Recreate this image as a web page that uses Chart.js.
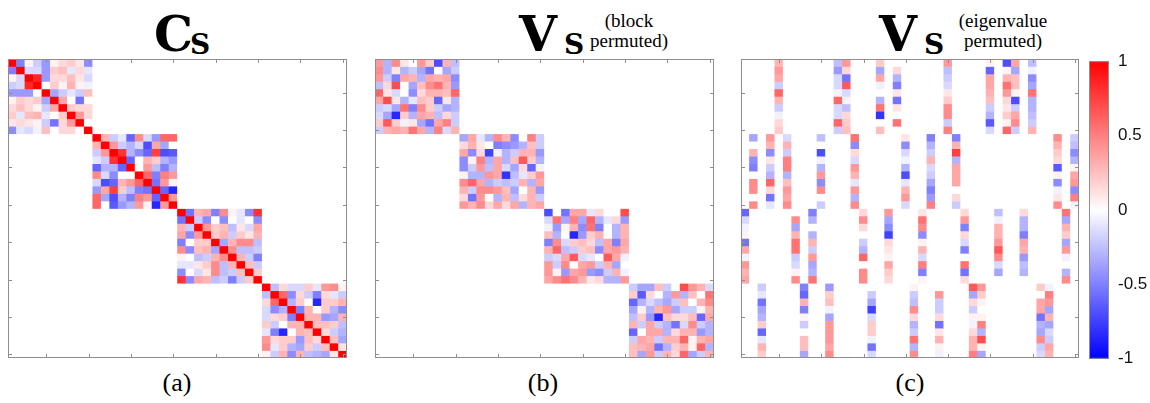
<!DOCTYPE html>
<html lang="en">
<head>
<meta charset="UTF-8">
<title>Cs and Vs matrices</title>
<script src="https://cdn.jsdelivr.net/npm/chart.js"></script>
<style>
  html, body { margin: 0; padding: 0; background: #fff; }
  .page { position: relative; width: 1150px; height: 403px; overflow: hidden; }
  .panel { position: absolute; }
  .big { position: absolute; font-family: 'DejaVu Serif', serif; font-weight: bold; font-size: 49px; line-height: 49px; color: #000; }
  .sub { position: absolute; font-family: 'DejaVu Serif', serif; font-weight: bold; font-size: 28px; line-height: 28px; color: #000; }
  .note { position: absolute; font-family: 'Liberation Serif', serif; font-size: 19px; line-height: 20px; text-align: center; color: #000; }
  .tag { position: absolute; width: 60px; font-family: 'Liberation Serif', serif; font-size: 26px; line-height: 26px; text-align: center; color: #000; }
</style>
</head>
<body>
<div class="page">
  <span class="big" style="left:154px; top:10px;">C</span>
  <span class="sub" style="left:190px; top:31px;">S</span>
  <span class="big" style="left:519px; top:10px;">V</span>
  <span class="sub" style="left:564px; top:31px;">S</span>
  <span class="note" style="left:584px; top:11px; width:90px;">(block<br>permuted)</span>
  <span class="big" style="left:879px; top:10px;">V</span>
  <span class="sub" style="left:924px; top:31px;">S</span>
  <span class="note" style="left:948px; top:11px; width:110px;">(eigenvalue<br>permuted)</span>

  <canvas id="panelA" class="panel" style="left:4px; top:55px;" width="347" height="307"></canvas>
  <canvas id="panelB" class="panel" style="left:371px; top:55px;" width="347" height="307"></canvas>
  <canvas id="panelC" class="panel" style="left:737px; top:55px;" width="346" height="307"></canvas>
  <canvas id="colorBar" class="panel" style="left:1089px; top:50px;" width="61" height="320"></canvas>

  <span class="tag" style="left:147px; top:370px;">(a)</span>
  <span class="tag" style="left:513px; top:370px;">(b)</span>
  <span class="tag" style="left:880px; top:370px;">(c)</span>
</div>

<script>
// row / column index of the 40x40 matrices
const cells = [1,2,3,4,5,6,7,8,9,10,11,12,13,14,15,16,17,18,19,20,
               21,22,23,24,25,26,27,28,29,30,31,32,33,34,35,36,37,38,39,40];
const axisTicks = [5, 10, 15, 20, 25, 30, 35, 40];
const barTicks = [-1, -0.5, 0, 0.5, 1];

// (a) Cs : four 10x10 correlation blocks on the diagonal
const csBlock1 = [
  [1, -0.5, 0.05, -0.2, -0.4, 0.05, 0.15, 0.2, 0.1, -0.45],
  [-0.5, 1, -0.15, -0.15, -0.4, 0.2, 0.25, -0.1, 0.15, -0.1],
  [0.05, -0.15, 1, 0.85, -0.4, 0.15, 0.15, 0.25, 0.1, -0.15],
  [-0.2, -0.15, 0.85, 1, 0, 0.2, 0.05, 0.3, 0.05, -0.05],
  [-0.4, -0.4, -0.4, 0, 1, -0.35, -0.2, -0.1, -0.2, 0.25],
  [0.05, 0.2, 0.15, 0.2, -0.35, 1, 0.35, 0, -0.55, 0],
  [0.15, 0.25, 0.15, 0.05, -0.2, 0.35, 1, 0.2, 0.15, 0.15],
  [0.2, -0.1, 0.25, 0.3, -0.1, 0, 0.2, 1, 0.4, 0.15],
  [0.1, 0.15, 0.1, 0.05, -0.2, -0.55, 0.15, 0.4, 1, 0],
  [-0.45, -0.1, -0.15, -0.05, 0.25, 0, 0.15, 0.15, 0, 1]
];
const csBlock2 = [
  [1, 0.3, -0.2, -0.1, -0.6, 0.45, -0.15, -0.4, 0.6, 0.6],
  [0.3, 1, 0.4, -0.2, -0.3, -0.15, -0.7, 0.35, -0.35, 0],
  [-0.2, 0.4, 1, 0.8, -0.3, -0.45, -0.6, 0.75, -0.7, -0.65],
  [-0.1, -0.2, 0.8, 1, -0.6, 0, 0.3, 0.2, -0.3, -0.4],
  [-0.6, -0.3, -0.3, -0.6, 1, 0, 0.4, -0.25, -0.5, -0.3],
  [0.45, -0.15, -0.45, 0, 0, 1, 0.6, -0.5, 0.5, 0.4],
  [-0.15, -0.7, -0.6, 0.3, 0.4, 0.6, 1, -0.55, 0.4, 0.05],
  [-0.4, 0.35, 0.75, 0.2, -0.25, -0.5, -0.55, 1, -0.6, -0.85],
  [0.6, -0.35, -0.7, -0.3, -0.5, 0.5, 0.4, -0.6, 1, 0.4],
  [0.6, 0, -0.65, -0.4, -0.3, 0.4, 0.05, -0.85, 0.4, 1]
];
const csBlock3 = [
  [1, -0.55, 0.3, 0.35, -0.5, 0.45, 0.05, -0.1, -0.45, 0.8],
  [-0.55, 1, -0.2, -0.45, 0, -0.45, 0, -0.1, 0, -0.45],
  [0.3, -0.2, 1, 0.4, 0.2, 0.25, -0.25, 0.1, -0.15, 0.35],
  [0.35, -0.45, 0.4, 1, 0.2, 0.3, -0.2, 0.2, 0.1, 0.3],
  [-0.5, 0, 0.2, 0.2, 1, -0.35, 0.3, 0.45, 0.45, -0.25],
  [0.45, -0.45, 0.25, 0.3, -0.35, 1, 0.45, -0.25, -0.25, -0.2],
  [0.05, 0, -0.25, -0.2, 0.3, 0.45, 1, 0.3, -0.2, -0.5],
  [-0.1, -0.1, 0.1, 0.2, 0.45, -0.25, 0.3, 1, 0.25, -0.2],
  [-0.45, 0, -0.15, 0.1, 0.45, -0.25, -0.2, 0.25, 1, 0.2],
  [0.8, -0.45, 0.35, 0.3, -0.25, -0.2, -0.5, -0.2, 0.2, 1]
];
const csBlock4 = [
  [1, -0.25, 0.15, -0.15, -0.15, 0.2, -0.1, 0.4, 0.45, 0.05],
  [-0.25, 1, 0.6, -0.45, 0.15, -0.2, -0.5, 0.15, -0.1, -0.2],
  [0.15, 0.6, 1, -0.3, 0.2, 0, -0.85, 0.2, 0.2, 0.3],
  [-0.15, -0.45, -0.3, 1, -0.5, 0.3, 0, 0.2, -0.3, -0.45],
  [-0.15, 0.15, 0.2, -0.5, 1, 0.3, 0.3, -0.4, -0.35, 0.3],
  [0.2, -0.2, 0, 0.3, 0.3, 1, 0.25, 0.25, 0.2, -0.25],
  [-0.1, -0.5, -0.85, 0, 0.3, 0.25, 1, 0.15, -0.2, -0.3],
  [0.4, 0.15, 0.2, 0.2, -0.4, 0.25, 0.15, 1, 0.25, -0.35],
  [0.45, -0.1, 0.2, -0.3, -0.35, 0.2, -0.2, 0.25, 1, 0.1],
  [0.05, -0.2, 0.3, -0.45, 0.3, -0.25, -0.3, -0.35, 0.1, 1]
];

// (b) Vs, block permuted
const vsBlock1 = [
  [0.4, -0.3, 0.45, 0.1, 0, 0.4, 0.2, -0.7, 0.3, -0.25],
  [0.45, -0.3, 0.1, -0.3, -0.2, -0.35, -0.55, 0, -0.35, -0.2],
  [0.4, -0.2, -0.5, 0.35, 0.3, -0.3, 0.35, 0.3, 0.35, -0.45],
  [-0.25, 0.15, 0.7, 0, -0.35, 0.25, 0.45, 0.55, 0.3, -0.4],
  [0.6, 0.1, -0.15, 0, -0.45, 0.15, 0.3, 0.3, 0.25, 0.6],
  [0.35, 0.7, 0.1, -0.3, -0.1, 0.25, 0.2, -0.6, 0.1, -0.3],
  [-0.2, -0.15, -0.35, 0.55, -0.5, 0.45, 0.2, -0.2, -0.35, -0.3],
  [-0.15, -0.35, -0.85, 0.2, -0.3, 0.35, 0.3, -0.25, 0.15, -0.2],
  [0.2, 0.65, 0.2, -0.05, 0.1, -0.35, -0.55, 0.35, 0.5, -0.2],
  [-0.2, 0.3, 0.35, 0.3, 0.55, 0.35, -0.3, 0.5, -0.15, 0.3]
];
const vsBlock2 = [
  [-0.35, 0.35, -0.1, -0.3, 0.45, 0.3, -0.45, 0, 0.5, -0.2],
  [0.15, 0.3, 0.1, 0, -0.5, -0.45, -0.4, -0.3, 0.25, -0.2],
  [0.35, -0.45, 0.15, -0.75, -0.05, -0.3, -0.2, 0.3, 0.3, -0.4],
  [-0.45, 0.05, 0.5, -0.3, 0.35, -0.3, 0.25, 0.65, 0.2, -0.3],
  [-0.45, -0.2, 0.4, -0.25, 0.35, -0.15, -0.35, 0.15, -0.6, -0.05],
  [0.05, -0.3, -0.3, 0.4, 0.35, -0.8, -0.25, -0.1, 0.2, 0.4],
  [0.45, 0.6, 0.35, -0.3, -0.2, -0.25, -0.2, 0.3, -0.3, 0.35],
  [0.3, -0.2, 0.45, 0.45, 0.4, 0.25, -0.35, 0, 0.3, -0.4],
  [0.15, -0.55, 0.4, 0, -0.3, 0.3, -0.25, 0.15, 0.3, -0.2],
  [0.4, 0.3, 0.45, 0.15, 0.35, 0.15, 0.35, -0.3, 0.3, 0.35]
];
const vsBlock3 = [
  [-0.7, 0, -0.55, 0.35, 0.35, -0.1, 0.15, 0, 0, 0.7],
  [-0.15, 0.55, -0.35, 0.5, -0.35, 0.6, -0.3, -0.1, 0.15, -0.4],
  [-0.05, -0.4, 0.05, 0.3, -0.45, 0.55, -0.5, 0, -0.3, 0.3],
  [0.25, -0.3, 0, -0.85, -0.4, 0.2, 0.3, 0, -0.3, 0.3],
  [-0.5, 0.45, -0.15, 0.2, 0.25, 0.15, -0.25, 0.35, -0.5, 0.35],
  [0.3, 0.6, -0.25, -0.2, 0.2, 0.25, -0.45, 0.35, 0.4, 0.3],
  [-0.2, -0.15, 0.35, 0.65, -0.15, -0.1, 0, 0.65, 0.35, -0.05],
  [0.4, -0.2, 0.45, 0, 0.35, 0.4, -0.2, 0.3, -0.35, 0],
  [0.4, 0.05, -0.4, 0.35, 0.4, -0.4, -0.45, -0.2, 0.3, -0.05],
  [0.35, 0.45, 0.55, 0.45, 0.3, 0.1, 0.15, -0.3, -0.3, 0.4]
];
const vsBlock4 = [
  [-0.2, -0.35, -0.35, 0.25, -0.2, 0, 0.7, 0.4, 0.3, -0.15],
  [0.2, -0.65, 0.15, 0, -0.3, 0.4, -0.3, 0.25, 0, 0.55],
  [-0.6, -0.3, -0.15, -0.25, -0.35, -0.2, 0.25, 0, 0.3, 0.45],
  [-0.35, 0.05, -0.3, 0.3, 0.4, -0.35, -0.2, -0.2, 0.05, 0.3],
  [-0.25, 0.2, -0.4, -0.85, 0.25, 0.15, 0.15, 0.25, -0.6, 0.35],
  [0.3, -0.2, 0.35, -0.2, -0.3, -0.55, -0.15, 0.45, -0.2, -0.3],
  [-0.6, 0, 0.35, 0.35, -0.3, 0.15, 0.3, 0.3, -0.4, -0.3],
  [-0.2, 0.35, 0.3, -0.2, 0.3, 0.3, 0.6, 0.05, 0.3, 0.35],
  [0.25, 0.3, 0.35, -0.55, -0.3, 0.2, 0.3, 0.05, 0.6, -0.3],
  [0.25, -0.35, 0.4, -0.2, 0.3, 0.15, 0.6, -0.35, -0.2, 0.3]
];

// (c) Vs, eigenvalue permuted: each column only lives in one block of rows
const eigBlock = [3, 2, 4, 2, 1, 2, 3, 4, 3, 2, 4, 1, 1, 2, 3, 4, 1, 3, 1, 2,
                  4, 3, 2, 4, 1, 2, 3, 4, 4, 1, 3, 1, 1, 3, 1, 4, 4, 2, 3, 2];
const eigCols = [
  [-0.6, -0.15, -0.05, 0.05, -0.55, 0.35, -0.05, 0.4, 0.3, 0.35],
  [-0.35, 0, 0.3, -0.45, -0.5, 0, 0.45, 0.45, 0, 0.45],
  [-0.2, -0.1, -0.55, -0.35, -0.3, 0.2, -0.6, -0.1, 0.3, 0.2],
  [0.4, 0.3, -0.45, 0.1, -0.2, -0.3, 0.6, 0.15, -0.55, -0.1],
  [0.3, 0.4, 0.35, -0.2, 0.6, 0.3, -0.2, -0.05, 0.15, 0.2],
  [-0.15, 0.3, -0.2, 0.5, 0.5, -0.3, 0.25, 0.4, 0.35, 0.45],
  [0, 0.45, -0.35, 0.3, 0.55, 0.55, -0.2, -0.15, 0.05, 0.45],
  [-0.5, -0.6, 0.3, -0.5, 0.05, -0.2, 0, 0.25, 0.25, -0.35],
  [-0.5, -0.3, 0, -0.3, 0.3, -0.2, 0.4, -0.35, -0.3, 0.55],
  [-0.25, 0, -0.7, -0.05, -0.3, 0.4, -0.45, 0.45, 0, -0.2],
  [-0.4, 0.2, 0.25, -0.05, -0.35, 0.4, 0.4, 0.4, 0.35, 0.45],
  [-0.25, -0.4, -0.15, -0.15, -0.05, 0.6, -0.15, -0.15, 0.6, -0.2],
  [0.4, 0.15, -0.55, 0.65, -0.15, 0.05, -0.25, 0.15, 0.2, 0.25],
  [0.55, -0.45, 0.15, -0.15, 0.4, 0.3, -0.1, 0.4, -0.3, 0.45],
  [0.15, 0.45, 0.15, 0, -0.2, -0.3, 0.6, 0, 0.45, 0.45],
  [0, -0.2, -0.35, -0.75, -0.15, 0.2, 0.2, -0.05, -0.55, -0.15],
  [0.2, -0.35, 0.35, -0.05, 0, -0.3, 0.55, -0.8, 0, 0.25],
  [0.4, -0.35, -0.45, -0.75, 0.15, 0.1, 0.05, 0.35, 0.2, 0.15],
  [0, 0.15, -0.3, -0.5, 0.1, -0.55, 0.1, 0, 0.55, 0],
  [0.1, -0.45, -0.15, -0.05, -0.3, -0.7, -0.1, 0.3, 0.4, -0.15],
  [0.05, -0.2, -0.25, 0.45, 0.15, -0.3, -0.2, 0.55, -0.3, 0.45],
  [0.1, 0.55, 0.45, -0.45, 0.05, 0.3, -0.15, 0.5, -0.5, 0.05],
  [-0.5, -0.3, -0.2, 0.3, -0.15, -0.2, -0.35, -0.5, -0.4, 0.5],
  [0, 0.4, -0.2, -0.2, 0.15, -0.55, 0.1, 0.3, 0.05, -0.05],
  [0.4, -0.25, -0.2, -0.15, 0.1, 0.2, 0.45, 0.45, -0.2, 0.5],
  [-0.5, 0.3, 0.75, -0.3, 0.35, 0.35, 0.35, 0, 0.15, -0.2],
  [0.15, 0.4, -0.5, 0.15, -0.15, -0.5, 0, 0.55, -0.55, 0.15],
  [0.65, -0.35, 0.15, -0.2, 0.05, -0.05, 0.15, 0.3, 0.3, 0.5],
  [0.4, 0.2, 0.05, 0, 0.05, 0.5, -0.3, 0.7, 0.05, -0.35],
  [0.05, -0.6, 0.35, 0.35, 0.3, 0.25, -0.2, -0.3, -0.65, -0.15],
  [-0.25, -0.05, 0.3, 0.3, 0.4, 0.65, 0.45, -0.15, -0.35, 0],
  [-0.7, 0.05, 0.3, 0.55, 0.4, 0.15, 0.1, 0.2, 0.05, 0.6],
  [0.35, -0.35, 0.25, 0.25, 0.05, -0.7, -0.2, 0.35, 0.45, -0.2],
  [0.15, -0.3, -0.3, -0.5, 0.35, 0.3, -0.4, -0.25, -0.3, 0],
  [-0.25, -0.05, -0.45, -0.35, 0.55, -0.3, -0.3, -0.25, -0.2, 0.3],
  [0.2, 0, 0.35, 0.35, -0.55, -0.3, -0.35, 0.45, -0.2, -0.15],
  [-0.05, 0.5, 0.4, -0.35, 0.3, -0.35, -0.15, -0.2, 0.35, 0.3],
  [0.45, 0.3, 0.2, 0.15, -0.65, 0.05, -0.45, -0.05, 0.1, 0.45],
  [0.55, -0.35, 0.3, 0.2, -0.35, 0.4, -0.05, 0, -0.3, 0.45],
  [-0.2, -0.25, -0.45, -0.3, 0.05, 0.35, 0.4, -0.45, 0.5, -0.05]
];

// blue - white - red map, -1..1
function valueColor(v) {
  const t = Math.round(255 * (1 - Math.min(1, Math.abs(v))));
  return v >= 0 ? `rgb(255,${t},${t})` : `rgb(${t},${t},255)`;
}

function blockDiag(blocks) {
  const m = cells.map(() => cells.map(() => 0));
  blocks.forEach((b, k) => b.forEach((row, i) => row.forEach((v, j) => {
    m[k * 10 + i][k * 10 + j] = v;
  })));
  return m;
}

function eigMatrix() {
  const m = cells.map(() => cells.map(() => 0));
  eigCols.forEach((col, j) => col.forEach((v, i) => {
    m[(eigBlock[j] - 1) * 10 + i][j] = v;
  }));
  return m;
}

// grey box with inward ticks, like the matlab axes
const boxTicks = {
  id: 'boxTicks',
  afterDraw(chart) {
    const { ctx, chartArea: a, scales: { x, y } } = chart;
    ctx.save();
    ctx.strokeStyle = '#8e8e8e';
    ctx.lineWidth = 1;
    ctx.strokeRect(a.left + 0.5, a.top + 0.5, a.right - a.left - 1, a.bottom - a.top - 1);
    ctx.beginPath();
    axisTicks.forEach(t => {
      const px = Math.round(x.getPixelForValue(t - 1)) + 0.5;
      ctx.moveTo(px, a.top); ctx.lineTo(px, a.top + 4);
      ctx.moveTo(px, a.bottom); ctx.lineTo(px, a.bottom - 4);
      const py = Math.round(y.getPixelForValue(t - 0.5)) + 0.5;
      ctx.moveTo(a.left, py); ctx.lineTo(a.left + 4, py);
      ctx.moveTo(a.right, py); ctx.lineTo(a.right - 4, py);
    });
    ctx.stroke();
    ctx.restore();
  }
};

function heatmap(id, matrix) {
  // one stacked dataset per matrix row, one bar per column
  const datasets = matrix.map(row => ({
    data: cells.map(() => 1),
    backgroundColor: row.map(valueColor),
    borderWidth: 0,
    barPercentage: 1,
    categoryPercentage: 1
  }));
  return new Chart(document.getElementById(id), {
    type: 'bar',
    data: { labels: cells, datasets: datasets },
    options: {
      responsive: false,
      animation: false,
      layout: { padding: 4 },
      plugins: { legend: { display: false }, tooltip: { enabled: false } },
      scales: {
        x: { display: false, stacked: true },
        y: { display: false, stacked: true, min: 0, max: 40, reverse: true }
      }
    },
    plugins: [boxTicks]
  });
}

heatmap('panelA', blockDiag([csBlock1, csBlock2, csBlock3, csBlock4]));
heatmap('panelB', blockDiag([vsBlock1, vsBlock2, vsBlock3, vsBlock4]));
heatmap('panelC', eigMatrix());

// colour bar
const barFrame = {
  id: 'barFrame',
  afterDraw(chart) {
    const { ctx, chartArea: a } = chart;
    ctx.save();
    ctx.strokeStyle = '#8e8e8e';
    ctx.lineWidth = 1;
    ctx.strokeRect(a.left + 0.5, a.top + 0.5, a.right - a.left - 1, a.bottom - a.top - 1);
    ctx.restore();
  }
};

new Chart(document.getElementById('colorBar'), {
  type: 'bar',
  data: {
    labels: [''],
    datasets: [{
      data: [[-1, 1]],
      barPercentage: 1,
      categoryPercentage: 1,
      borderWidth: 0,
      backgroundColor(c) {
        const area = c.chart.chartArea;
        if (!area) return '#fff';
        const g = c.chart.ctx.createLinearGradient(0, area.bottom, 0, area.top);
        g.addColorStop(0, valueColor(-1));
        g.addColorStop(0.5, valueColor(0));
        g.addColorStop(1, valueColor(1));
        return g;
      }
    }]
  },
  options: {
    responsive: false,
    animation: false,
    layout: { padding: { top: 11, bottom: 11, left: 0, right: 0 } },
    plugins: { legend: { display: false }, tooltip: { enabled: false } },
    scales: {
      x: { display: false },
      y: {
        position: 'right',
        min: -1, max: 1,
        afterBuildTicks: s => { s.ticks = barTicks.map(v => ({ value: v })); },
        afterFit: s => { s.width = 41; },
        grid: { display: false },
        border: { display: false },
        ticks: {
          padding: 1,
          color: '#111',
          font: { family: 'Liberation Sans', size: 17 },
          callback: v => String(v)
        }
      }
    }
  },
  plugins: [barFrame]
});
</script>
</body>
</html>
